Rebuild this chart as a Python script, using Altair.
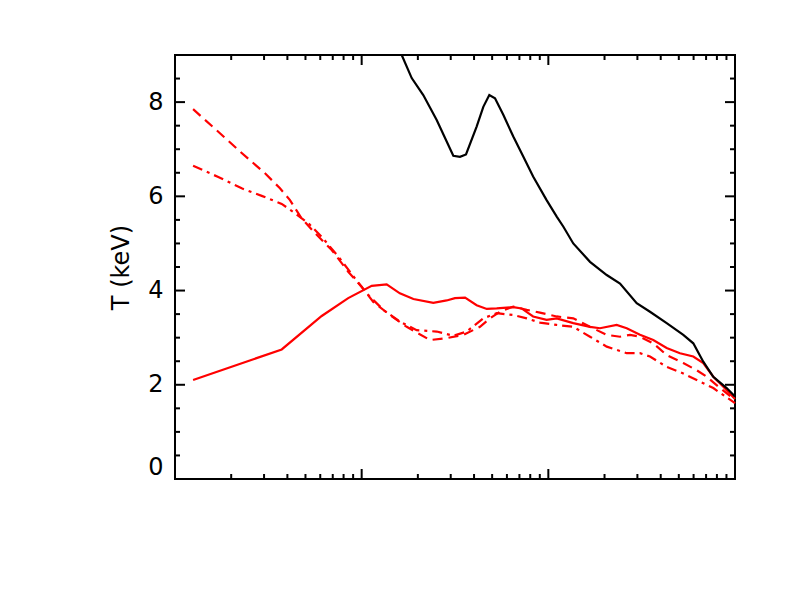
import altair as alt
import pandas as pd

# ---- data (x: log radius, T in keV) ----
solid_x = [0.00125, 0.00373, 0.00611, 0.00847, 0.01132, 0.01361, 0.01602, 0.01893, 0.0242, 0.02854,
           0.0316, 0.0358, 0.0413, 0.0468, 0.0529, 0.0649, 0.0719, 0.0829, 0.0979, 0.1109,
           0.1360, 0.1672, 0.1891, 0.2323, 0.2630, 0.3097, 0.3649, 0.4305, 0.5073, 0.5978,
           0.676, 0.765, 0.866, 1.0]
solid_T = [2.10, 2.75, 3.46, 3.84, 4.10, 4.13, 3.94, 3.82, 3.74, 3.79,
           3.84, 3.85, 3.69, 3.61, 3.62, 3.65, 3.62, 3.45, 3.38, 3.41,
           3.31, 3.23, 3.20, 3.27, 3.20, 3.06, 2.95, 2.78, 2.67, 2.60,
           2.46, 2.17, 1.96, 1.70]

black_x = [0.01545, 0.01639, 0.01854, 0.02138, 0.02523, 0.03097, 0.03363, 0.03622, 0.0413, 0.04484,
           0.04828, 0.05179, 0.05737, 0.0649, 0.0735, 0.0829, 0.0979, 0.1109, 0.1202, 0.1360,
           0.1672, 0.2055, 0.2421, 0.2974, 0.3504, 0.4305, 0.5284, 0.5978, 0.676, 0.765,
           0.9026, 1.0]
black_T = [9.25, 9.0, 8.51, 8.15, 7.62, 6.86, 6.84, 6.89, 7.48, 7.90,
           8.15, 8.08, 7.73, 7.27, 6.84, 6.42, 5.92, 5.57, 5.36, 5.00,
           4.61, 4.33, 4.15, 3.73, 3.55, 3.31, 3.06, 2.88, 2.49, 2.17,
           1.93, 1.75]

dash_x = [0.00125, 0.001706, 0.002277, 0.003035, 0.003651, 0.00413, 0.00477, 0.005623, 0.00691, 0.00847,
          0.01, 0.01154, 0.01418, 0.01743, 0.02323, 0.02854, 0.03504, 0.04305, 0.04869, 0.05508,
          0.0649, 0.0766, 0.0902, 0.1109, 0.1360, 0.1672, 0.2055, 0.2421, 0.2739, 0.3097,
          0.3649, 0.4305, 0.5284, 0.6233, 0.7056, 0.831, 1.0]
dash_T = [7.85, 7.37, 6.92, 6.49, 6.17, 5.92, 5.53, 5.22, 4.86, 4.40,
          4.08, 3.76, 3.48, 3.23, 2.95, 2.99, 3.06, 3.23, 3.41, 3.55,
          3.66, 3.59, 3.53, 3.45, 3.41, 3.23, 3.06, 3.02, 3.06, 3.02,
          2.88, 2.63, 2.46, 2.31, 2.17, 1.93, 1.68]

dashdot_x = [0.00125, 0.001706, 0.002277, 0.002914, 0.00373, 0.004395, 0.005178, 0.00611, 0.0075, 0.00921,
             0.01064, 0.01306, 0.01602, 0.01971, 0.02523, 0.03097, 0.03653, 0.04484, 0.0529, 0.0649,
             0.0766, 0.0902, 0.1109, 0.1360, 0.1672, 0.2055, 0.2630, 0.3097, 0.3504, 0.4305,
             0.5284, 0.6233, 0.765, 1.0]
dashdot_T = [6.65, 6.41, 6.17, 6.01, 5.84, 5.64, 5.43, 5.14, 4.72, 4.26,
             3.94, 3.59, 3.34, 3.16, 3.13, 3.04, 3.13, 3.41, 3.52, 3.48,
             3.41, 3.32, 3.27, 3.23, 3.02, 2.81, 2.67, 2.67, 2.60, 2.38,
             2.24, 2.10, 1.93, 1.61]

y_labels = [0, 2, 4, 6, 8]
y_minor = [0.5, 1, 1.5, 2.5, 3, 3.5, 4.5, 5, 5.5, 6.5, 7, 7.5, 8.5]
x_major = [0.01, 0.1]
x_minor = [m * d for d in (0.001, 0.01, 0.1) for m in range(2, 10)]

W, H = 560, 424
xscale = alt.Scale(type="log", domain=[0.001, 1], nice=False)
yscale = alt.Scale(domain=[0, 9], nice=False, zero=False)
FONT = "DejaVu Sans"

yaxis = alt.Axis(
    values=y_labels, title="T (keV)", ticks=False, domain=False, grid=False,
    labelFontSize=24, labelFont=FONT, labelColor="black", labelPadding=12,
    labelFlush=True,
    titleFontSize=24, titleFont=FONT, titleFontWeight="normal", titleColor="black",
    titlePadding=14,
)


def line_layer(xs, ts, color, dash=None, clip=False):
    df = pd.DataFrame({"r": xs, "T": ts})
    kw = dict(color=color, strokeWidth=2.2, clip=clip)
    if dash:
        kw["strokeDash"] = dash
    return alt.Chart(df).mark_line(**kw).encode(
        x=alt.X("r:Q", scale=xscale, axis=None),
        y=alt.Y("T:Q", scale=yscale, axis=yaxis),
    )


layers = [
    line_layer(solid_x, solid_T, "#ff0000"),
    line_layer(dash_x, dash_T, "#ff0000", dash=[10, 6]),
    line_layer(dashdot_x, dashdot_T, "#ff0000", dash=[10, 5, 3, 5]),
    line_layer(black_x, black_T, "#000000", clip=True),
]


def ytick(vals, x0, x1):
    return alt.Chart(pd.DataFrame({"T": vals})).mark_rule(color="black", strokeWidth=2).encode(
        y=alt.Y("T:Q", scale=yscale, axis=yaxis), x=alt.value(x0), x2=alt.value(x1)
    )


def xtick(vals, y0, y1):
    return alt.Chart(pd.DataFrame({"r": vals})).mark_rule(color="black", strokeWidth=2).encode(
        x=alt.X("r:Q", scale=xscale, axis=None), y=alt.value(y0), y2=alt.value(y1)
    )


MAJ, MIN = 10, 5
ymaj = [v for v in y_labels if v > 0]
layers += [
    ytick(ymaj, 0, MAJ), ytick(y_minor, 0, MIN),
    ytick(ymaj, W, W - MAJ), ytick(y_minor, W, W - MIN),
    xtick(x_major, H, H - MAJ), xtick(x_minor, H, H - MIN),
    xtick(x_major, 0, MAJ), xtick(x_minor, 0, MIN),
]

chart = alt.layer(*layers).properties(
    width=W, height=H,
    padding={"left": 167, "top": 47, "right": 43, "bottom": 104},
    autosize=alt.AutoSizeParams(type="none"),
    background="white",
).configure_view(stroke="black", strokeWidth=2)

chart.save("out.html", embed_options={"renderer": "svg", "actions": False})
